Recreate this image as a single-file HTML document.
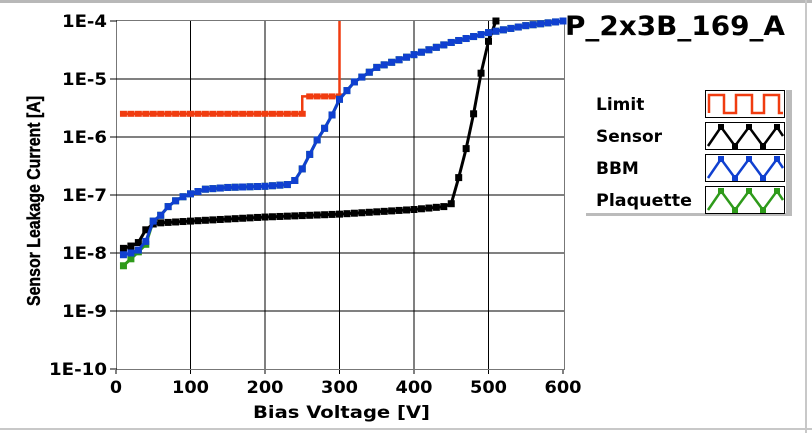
<!DOCTYPE html>
<html><head><style>
body{margin:0;background:#fff;}
svg{display:block;font-family:"DejaVu Sans","Liberation Sans",sans-serif;font-weight:bold;}
</style></head><body>
<svg id="s" width="812" height="433" viewBox="0 0 812 433">
<rect x="0" y="0" width="812" height="433" fill="#fff"/>
<line x1="0" y1="1.5" x2="812" y2="1.5" stroke="#b8b8b8" stroke-width="3"/>
<line x1="806" y1="0" x2="806" y2="433" stroke="#c8c8c8" stroke-width="2"/>
<line x1="0" y1="429" x2="812" y2="429" stroke="#c8c8c8" stroke-width="2"/>
<g id="grid" stroke="#000" stroke-width="1"></g>
<rect x="116.5" y="20.5" width="448" height="349" fill="none" stroke="#777" stroke-width="1"/>
<g id="ticks" font-size="17" fill="#000"></g>
<g id="data"></g>
<text x="253" y="418" font-size="17" textLength="177" lengthAdjust="spacingAndGlyphs">Bias Voltage [V]</text>
<text transform="translate(40,306) rotate(-90)" font-size="18" style="font-family:'Liberation Sans',sans-serif;font-weight:bold" font-weight="bold" stroke="#000" stroke-width="0.4" textLength="210" lengthAdjust="spacingAndGlyphs">Sensor Leakage Current [A]</text>
<text x="565" y="35" font-size="27" textLength="220" lengthAdjust="spacingAndGlyphs">P_2x3B_169_A</text>
<rect x="586" y="90" width="206" height="126" fill="#bbb"/>
<rect x="583" y="87" width="203" height="126" fill="#fff"/>
<g font-size="17">
<text x="596" y="110">Limit</text>
<text x="596" y="142">Sensor</text>
<text x="596" y="174">BBM</text>
<text x="596" y="206" textLength="96" lengthAdjust="spacingAndGlyphs">Plaquette</text>
</g>
<g id="leg"></g>
</svg>
<script>
const X=v=>116+v*0.745, Y=l=>21+(-4-l)*58;
let g='',t='';
for(let v=100;v<=500;v+=100)g+=`<line x1="${X(v)}" y1="21" x2="${X(v)}" y2="370"/>`;
for(let l=-5;l>=-9;l--)g+=`<line x1="117" y1="${Y(l)}" x2="564" y2="${Y(l)}"/>`;
document.getElementById('grid').innerHTML=g;
for(let v=0;v<=600;v+=100){const w=v==0?12:37;t+=`<text x="${X(v)-w/2}" y="393" textLength="${w}" lengthAdjust="spacingAndGlyphs">${v}</text><line x1="${X(v)}" y1="370" x2="${X(v)}" y2="374" stroke="#000"/>`;}
for(let l=-4;l>=-10;l--){const w=l==-10?58:45;t+=`<text x="${107-w}" y="${Y(l)+6}" textLength="${w}" lengthAdjust="spacingAndGlyphs">1E${l}</text><line x1="110" y1="${Y(l)}" x2="117" y2="${Y(l)}" stroke="#000"/>`;}
document.getElementById('ticks').innerHTML=t;
function interp(pts,v){for(let i=0;i<pts.length-1;i++){if(v>=pts[i][0]&&v<=pts[i+1][0]){const f=(v-pts[i][0])/(pts[i+1][0]-pts[i][0]);return pts[i][1]+f*(pts[i+1][1]-pts[i][1]);}}return null;}
const bbm=[[10,-8.03],[20,-8.0],[30,-7.95],[40,-7.8],[50,-7.45],[60,-7.35],[70,-7.2],[80,-7.1],[90,-7.03],[100,-6.98],[120,-6.9],[150,-6.87],[200,-6.85],[230,-6.82],[240,-6.75],[250,-6.55],[260,-6.3],[270,-6.05],[280,-5.85],[290,-5.62],[300,-5.35],[310,-5.2],[320,-5.05],[350,-4.8],[400,-4.58],[450,-4.37],[500,-4.2],[550,-4.08],[600,-4.0]];
const pl=bbm.map(p=>p.slice());pl[0][1]=-8.22;pl[1][1]=-8.1;pl[2][1]=-7.98;pl[3][1]=-7.85;
const sen=[[10,-7.92],[20,-7.88],[30,-7.82],[40,-7.6],[50,-7.5],[60,-7.48],[100,-7.45],[200,-7.38],[300,-7.33],[400,-7.25],[440,-7.2],[450,-7.15],[460,-6.7],[470,-6.2],[480,-5.6],[490,-4.9],[500,-4.35],[510,-4.0]];
function series(pts,col,max){let p=[],m='';for(let v=10;v<=max;v+=10){const l=interp(pts,v);const x=X(v),y=Y(l);p.push(x+','+y);m+=`<rect x="${x-3.5}" y="${y-3.5}" width="7" height="7" fill="${col}"/>`;}return `<polyline points="${p.join(' ')}" fill="none" stroke="${col}" stroke-width="3"/>`+m;}
let d='';
let lm='';for(let v=10;v<=300;v+=10){const l=v<=250?-5.6:-5.3;lm+=`<rect x="${X(v)-3.5}" y="${Y(l)-3}" width="7" height="6" fill="#f03c10"/>`;}
d+=`<polyline points="${X(10)},${Y(-5.6)} ${X(250)},${Y(-5.6)} ${X(250)},${Y(-5.3)} ${X(300)},${Y(-5.3)} ${X(300)},21" fill="none" stroke="#f03c10" stroke-width="2.5"/>`+lm;
d+=series(pl,'#2e9a1a',600);
d+=series(sen,'#000',510);
d+=series(bbm,'#1040d0',600);
document.getElementById('data').innerHTML=d;
let lg='';const cols=['#f03c10','#000','#1040d0','#2e9a1a'];
cols.forEach((c,i)=>{const y0=90+i*32;lg+=`<rect x="705.5" y="${y0+.5}" width="79" height="27" fill="#fff" stroke="#000"/>`;
let pts;if(i==0){pts=`709,${y0+23} 709,${y0+5} 724,${y0+5} 724,${y0+23} 736,${y0+23} 736,${y0+5} 752,${y0+5} 752,${y0+23} 764,${y0+23} 764,${y0+5} 779,${y0+5} 779,${y0+23} 783,${y0+23}`;}
else{pts=`708,${y0+24} 721,${y0+5} 735,${y0+24} 749,${y0+5} 763,${y0+24} 777,${y0+5} 783,${y0+14}`;}
lg+=`<polyline points="${pts}" fill="none" stroke="${c}" stroke-width="2.5"/>`;
if(i>0)[[721,5],[735,24],[749,5],[763,24],[777,5]].forEach(q=>lg+=`<rect x="${q[0]-3}" y="${y0+q[1]-3}" width="6" height="6" fill="${c}"/>`);
});
document.getElementById('leg').innerHTML=lg;
</script>
</body></html>
